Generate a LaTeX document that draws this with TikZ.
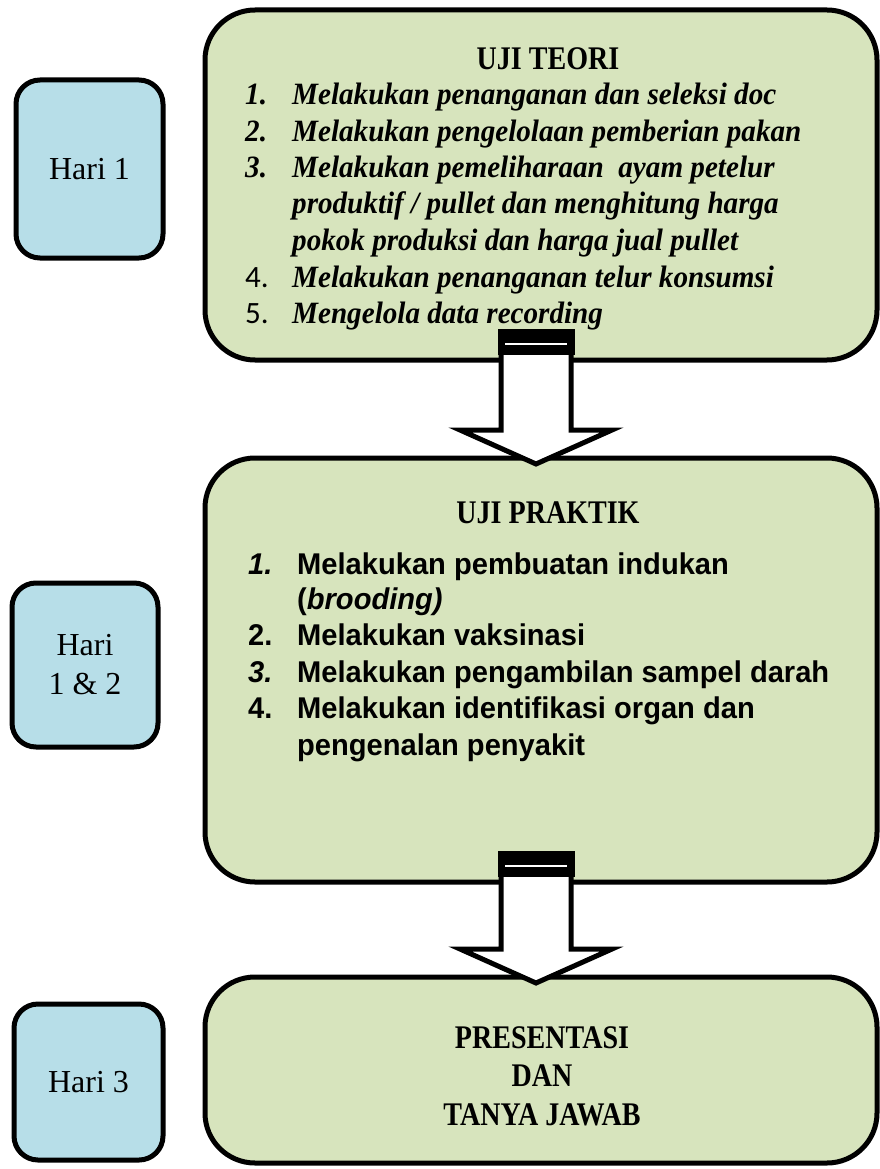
\documentclass[tikz,border=0pt]{standalone}
\usepackage{fontspec}
\setmainfont{Liberation Serif}
\newfontfamily\headfont[FakeStretch = 0.85]{Liberation Serif}
\newfontfamily\itemfont[FakeStretch = 0.94]{Liberation Serif}
\newfontfamily\sansfont[FakeStretch = 0.97]{Liberation Sans}
\newfontfamily\calfont{Carlito}
\usepackage{xcolor}
\usetikzlibrary{calc}

\definecolor{stagegreen}{HTML}{D7E4BD}
\definecolor{dayblue}{HTML}{B7DEE8}

\tikzset{
	daybox/.style = {draw, line width = 5pt, fill = dayblue, rounded corners = 24pt, outer sep = 0pt, align = center, font = \fontsize{32}{39}\selectfont},
	stagebox/.style = {draw, line width = 5pt, fill = stagegreen, rounded corners = 50pt, outer sep = 0pt, minimum width = 672pt},
	heading/.style = {anchor = base, inner sep = 0pt, font = \headfont\fontsize{33}{36}\selectfont\bfseries},
	teoriline/.style = {anchor = base west, inner sep = 0pt, font = \itemfont\fontsize{31}{36}\selectfont\bfseries\itshape},
	praktikline/.style = {anchor = base west, inner sep = 0pt, font = \sansfont\fontsize{30}{36}\selectfont\bfseries},
	flowarrow/.style = {draw, fill = white, line width = 5pt, line join = miter}
}

\begin{document}
\begin{tikzpicture}[x = 1pt, y = -1pt]
	\useasboundingbox (0,0) rectangle (879,1169);
	
	% days
	\node [daybox, minimum width = 147pt, minimum height = 178pt] (hari1) at (89.5,169) {Hari 1};
	\node [daybox, minimum width = 146pt, minimum height = 164pt] (hari12) at (85,665) {Hari\\ 1 \& 2};
	\node [daybox, minimum width = 149pt, minimum height = 156pt] (hari3) at (88.5,1082) {Hari 3};
	
	% stages
	\node [stagebox, minimum height = 350pt] (teori) at (541,185) {};
	\node [stagebox, minimum height = 424pt] (praktik) at (541,670) {};
	\node [stagebox, minimum height = 186pt] (presentasi) at (541,1070) {};
	
	% uji teori
	\node [heading] (teorihead) at (548,70) {UJI TEORI};
	\node [teoriline] (teori1) at (245,105) {\makebox[47pt][l]{1.}Melakukan penanganan dan seleksi doc};
	\node [teoriline] (teori2) at (245,142) {\makebox[47pt][l]{2.}Melakukan pengelolaan pemberian pakan};
	\node [teoriline] (teori3) at (245,178) {\makebox[47pt][l]{3.}Melakukan pemeliharaan\ \ ayam petelur};
	\node [teoriline] (teori3b) at (292,214) {produktif / pullet dan menghitung harga};
	\node [teoriline] (teori3c) at (292,250) {pokok produksi dan harga jual pullet};
	\node [teoriline] (teori4) at (245,287) {\makebox[47pt][l]{\calfont\mdseries\upshape 4.}Melakukan penanganan telur konsumsi};
	\node [teoriline] (teori5) at (245,323) {\makebox[47pt][l]{\calfont\mdseries\upshape 5.}Mengelola data recording};
	
	% uji praktik
	\node [heading] (praktikhead) at (548,523) {UJI PRAKTIK};
	\node [praktikline] (praktik1) at (248,574) {\makebox[49pt][l]{\itshape 1.}Melakukan pembuatan indukan};
	\node [praktikline] (praktik1b) at (297,609) {(\textit{brooding)}};
	\node [praktikline] (praktik2) at (248,645) {\makebox[49pt][l]{2.}Melakukan vaksinasi};
	\node [praktikline] (praktik3) at (248,682) {\makebox[49pt][l]{\itshape 3.}Melakukan pengambilan sampel darah};
	\node [praktikline] (praktik4) at (248,718) {\makebox[49pt][l]{4.}Melakukan identifikasi organ dan};
	\node [praktikline] (praktik4b) at (297,755) {pengenalan penyakit};
	
	% presentasi
	\node [heading] (presline1) at (542,1048) {PRESENTASI};
	\node [heading] (presline2) at (542,1086) {DAN};
	\node [heading] (presline3) at (542,1125) {TANYA JAWAB};
	
	% block arrows between stages
	\foreach \a/\b in {teori/praktik, praktik/presentasi} {
		\coordinate (\a-out) at ([xshift = -5pt]\a.south);
		\coordinate (\b-in) at ([xshift = -5pt]\b.north);
		\fill ([xshift = -38.5pt, yshift = 31pt]\a-out) rectangle ([xshift = 38.5pt, yshift = 5pt]\a-out);
		\draw [white, line width = 2pt] ([xshift = -31pt, yshift = 16pt]\a-out) -- ([xshift = 31pt, yshift = 16pt]\a-out);
		\filldraw [flowarrow] ([xshift = -35pt, yshift = 5pt]\a-out) -- ([xshift = -35pt, yshift = 28pt]\b-in) -- ([xshift = -76pt, yshift = 28pt]\b-in) -- ([yshift = -6pt]\b-in) -- ([xshift = 76pt, yshift = 28pt]\b-in) -- ([xshift = 35pt, yshift = 28pt]\b-in) -- ([xshift = 35pt, yshift = 5pt]\a-out);
	}
\end{tikzpicture}
\end{document}
